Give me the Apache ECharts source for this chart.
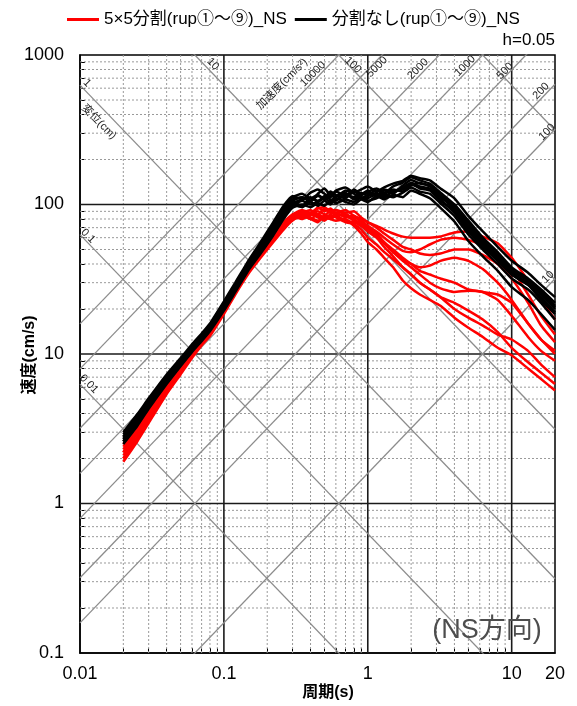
<!DOCTYPE html>
<html><head><meta charset="utf-8">
<script src="https://cdn.jsdelivr.net/npm/echarts@6/dist/echarts.min.js"></script>
<style>html,body{margin:0;padding:0;background:#fff}#c{width:577px;height:706px}</style>
</head><body><div id="c"></div><script>
// ---- data ----
const periods = [0.02, 0.025, 0.03, 0.04, 0.05, 0.06, 0.07, 0.08, 0.1, 0.12, 0.15, 0.18, 0.22, 0.26, 0.3, 0.35, 0.4, 0.45, 0.5, 0.55, 0.6, 0.7, 0.8, 0.9, 1.0, 1.15, 1.3, 1.5, 1.75, 2.0, 2.3, 2.7, 3.2, 4.0, 5.0, 6.3, 8.0, 10, 13, 16, 20];

const red1 = [2.4, 3.2, 4.1, 6.2, 8.3, 10.5, 12.6, 14.7, 20.5, 27, 38, 48, 62, 75, 84, 90, 86, 96, 90, 94, 88, 92, 84, 80, 76, 72, 68, 64, 61, 60, 60, 60, 61, 65, 66, 61, 55, 44, 31, 23, 17];
const red2 = [2.2, 2.95, 3.85, 5.9, 8.0, 10.2, 12.2, 14.3, 20, 26.5, 37, 47, 60, 72, 82, 88, 92, 86, 94, 88, 92, 85, 82, 78, 72, 66, 60, 54, 49, 48, 50, 54, 58, 60, 58, 53, 46, 37, 25, 18, 13.5];
const red3 = [2.0, 2.7, 3.55, 5.5, 7.5, 9.6, 11.6, 13.5, 19, 25.5, 36, 45, 58, 70, 80, 84, 80, 86, 82, 80, 84, 78, 76, 72, 68, 62, 55, 48, 43, 40, 38, 39, 42, 44, 42, 37, 30, 23, 16, 12.5, 10.5];
const red4 = [2.3, 3.05, 3.95, 6.0, 8.1, 10.3, 12.4, 14.4, 20, 26.8, 38, 48, 61, 74, 84, 82, 88, 84, 80, 86, 88, 82, 84, 76, 70, 64, 56, 50, 44, 40, 36, 34, 32, 30, 27, 26, 25, 22, 16, 12.5, 10];
const red5 = [1.9, 2.6, 3.45, 5.4, 7.3, 9.4, 11.4, 13.2, 18.5, 25, 35, 44, 56, 68, 78, 86, 82, 78, 84, 90, 84, 86, 80, 74, 68, 62, 55, 48, 42, 38, 34, 30, 27.5, 26, 26.5, 26, 23, 18, 13, 10.5, 9];
const red6 = [2.1, 2.8, 3.65, 5.7, 7.7, 9.8, 11.8, 13.8, 19.3, 25.8, 36.5, 46, 59, 71, 81, 88, 85, 90, 86, 82, 86, 84, 78, 72, 66, 60, 52, 45, 38, 34, 30, 27, 24, 20, 17.5, 15.5, 13.5, 12.5, 10.5, 8.5, 7];
const red7 = [2.0, 2.7, 3.55, 5.6, 7.6, 9.7, 11.7, 13.6, 19.2, 25.6, 36, 45, 57, 69, 79, 83, 80, 76, 84, 80, 78, 80, 72, 64, 56, 50, 44, 38, 31, 27.5, 25, 23, 21, 17.5, 15, 13, 11, 9.8, 8, 6.8, 5.7];
const red8 = [2.5, 3.3, 4.25, 6.4, 8.5, 10.7, 12.8, 14.9, 21, 27.5, 39, 49, 63, 76, 86, 92, 88, 94, 96, 90, 92, 88, 90, 82, 76, 70, 64, 58, 52, 50, 47, 46, 47, 50, 50, 46, 40, 32, 22, 15.5, 12];
const red9 = [2.2, 2.95, 3.85, 5.8, 7.8, 10.0, 12.0, 14.0, 19.6, 26.2, 37, 46, 59, 72, 83, 80, 86, 82, 78, 84, 82, 76, 74, 68, 60, 54, 48, 43, 38, 34, 30, 27, 24, 22, 19.5, 17, 14, 11, 8.8, 7.5, 6.3];

const black1 = [2.9, 3.8, 4.9, 7.1, 9.2, 11.3, 13.3, 15.6, 22, 29, 41, 53, 72, 92, 108, 112, 104, 118, 128, 116, 122, 114, 126, 118, 122, 128, 120, 132, 140, 152, 145, 138, 120, 100, 78, 60, 48, 38, 32, 27, 22];
const black2 = [2.7, 3.55, 4.6, 6.8, 8.8, 10.8, 12.8, 15, 21, 28, 40, 51, 68, 88, 104, 98, 110, 106, 112, 120, 108, 118, 110, 116, 124, 112, 126, 122, 130, 140, 132, 128, 112, 95, 72, 57, 45, 36, 31, 26, 21];
const black3 = [2.6, 3.45, 4.45, 6.5, 8.5, 10.5, 12.5, 14.6, 20.5, 27, 38, 49, 64, 82, 98, 106, 100, 104, 110, 104, 114, 120, 108, 112, 110, 118, 114, 122, 128, 134, 140, 132, 115, 92, 70, 55, 44, 35, 30, 25, 20];
const black4 = [2.8, 3.7, 4.75, 6.9, 9.0, 11.1, 13.1, 15.3, 21.5, 28.5, 41, 54, 74, 95, 112, 118, 110, 116, 108, 118, 112, 124, 118, 110, 116, 124, 118, 126, 122, 136, 130, 126, 108, 88, 66, 52, 42, 34, 29, 24, 19];
const black5 = [2.5, 3.3, 4.3, 6.3, 8.3, 10.3, 12.2, 14.2, 19.5, 26, 37, 47, 62, 80, 95, 100, 96, 102, 98, 106, 102, 108, 104, 112, 106, 110, 116, 112, 120, 130, 122, 118, 102, 84, 63, 50, 40, 32, 27, 22, 17];
const black6 = [3.0, 3.95, 5.05, 7.3, 9.4, 11.6, 13.7, 16, 22.5, 30, 43, 56, 76, 98, 114, 108, 120, 126, 118, 112, 124, 130, 120, 126, 132, 122, 130, 138, 144, 156, 150, 145, 128, 110, 84, 66, 52, 42, 35, 29, 24];
const black7 = [2.6, 3.45, 4.5, 6.6, 8.6, 10.6, 12.6, 14.8, 20.5, 27.5, 39, 50, 66, 85, 100, 96, 104, 98, 106, 100, 110, 104, 100, 108, 104, 114, 108, 116, 112, 124, 118, 110, 95, 77, 57, 45, 36, 28, 23, 18.5, 14.5];
const black8 = [2.8, 3.7, 4.8, 7.0, 9.1, 11.1, 13.2, 15.4, 21, 28, 40, 52, 70, 90, 106, 112, 106, 114, 110, 122, 116, 110, 122, 116, 120, 114, 124, 118, 134, 146, 138, 134, 116, 97, 75, 58, 46, 37, 31, 26, 20.5];
const black9 = [2.7, 3.55, 4.6, 6.7, 8.8, 10.9, 12.9, 15.1, 20.3, 27, 39, 50, 67, 86, 102, 108, 112, 104, 114, 108, 106, 116, 112, 120, 114, 120, 110, 124, 126, 138, 128, 124, 106, 90, 68, 54, 43, 34, 29, 23, 18.5];

const xTickLabels = [0.01, 0.1, 1, 10, 20];
const yTickLabels = [0.1, 1, 10, 100, 1000];
const dispLines = [0.01, 0.1, 1, 10, 100, 1000];          // cm
const accLines = [10, 100, 200, 500, 1000, 2000, 5000, 10000]; // cm/s2

const RED_NAME = '5×5分割(rup①～⑨)_NS';
const BLACK_NAME = '分割なし(rup①～⑨)_NS';

// ---- build ----
const FONT = '"Liberation Sans", "Noto Sans CJK JP", sans-serif';
const XMIN = 0.01, XMAX = 20, YMIN = 0.1, YMAX = 1000;
const TWO_PI = 2 * Math.PI;
const series = [];
let gid = 0;
function addLine(name, data, color, width, type, z) {
  series.push({
    type: 'line', name: name || ('_g' + (gid++)), data: data, showSymbol: false, symbol: 'none',
    silent: true, animation: false, z: z, clip: true,
    lineStyle: { color: color, width: width, type: type || 'solid' }
  });
}
const minorX = [], minorY = [];
for (let k = -2; k <= 1; k++) for (let m = 2; m <= 9; m++) {
  const v = +(m * Math.pow(10, k)).toPrecision(3);
  if (v > XMIN && v < XMAX) minorX.push(v);
}
for (let k = -1; k <= 2; k++) for (let m = 2; m <= 9; m++) {
  const v = +(m * Math.pow(10, k)).toPrecision(3);
  if (v > YMIN && v < YMAX) minorY.push(v);
}
const majorX = [0.1, 1, 10], majorY = [1, 10, 100];
minorX.forEach(v => addLine(null, [[v, YMIN], [v, YMAX]], '#9a9a9a', 1, [2, 2], 1));
minorY.forEach(v => addLine(null, [[XMIN, v], [XMAX, v]], '#9a9a9a', 1, [2, 2], 1));
majorX.forEach(v => addLine(null, [[v, YMIN], [v, YMAX]], '#1a1a1a', 1.6, 'solid', 2));
majorY.forEach(v => addLine(null, [[XMIN, v], [XMAX, v]], '#1a1a1a', 1.6, 'solid', 2));
// tripartite lines: displacement V = 2*pi*D/T, acceleration V = A*T/(2*pi)
dispLines.forEach(d => addLine(null, [[XMIN, TWO_PI * d / XMIN], [XMAX, TWO_PI * d / XMAX]], '#8c8c8c', 1.3, 'solid', 3));
accLines.forEach(a => addLine(null, [[XMIN, a * XMIN / TWO_PI], [XMAX, a * XMAX / TWO_PI]], '#8c8c8c', 1.3, 'solid', 3));

const reds = [red1, red2, red3, red4, red5, red6, red7, red8, red9];
const blacks = [black1, black2, black3, black4, black5, black6, black7, black8, black9];
function pair(vals) { return periods.map((t, i) => [t, vals[i]]); }
reds.forEach(r => series.push({ type: 'line', name: RED_NAME, data: pair(r), symbol: 'none', showSymbol: false,
  smooth: 0.15, animation: false, z: 5, lineStyle: { color: '#ff0000', width: 2.5 }, itemStyle: { color: '#ff0000' } }));
blacks.forEach(b => series.push({ type: 'line', name: BLACK_NAME, data: pair(b), symbol: 'none', showSymbol: false,
  smooth: 0.15, animation: false, z: 6, lineStyle: { color: '#000000', width: 2.5 }, itemStyle: { color: '#000000' } }));

function fmt(v) { return String(+(+v).toPrecision(6)); }

const small = { fontFamily: FONT, fontSize: 11, fill: '#222' };
const accLabels = [
  ['10000', 313, 74], ['5000', 377, 67], ['2000', 418, 69], ['1000', 465, 66], ['500', 505, 71],
  ['200', 541, 91], ['100', 547, 132], ['10', 548, 277], ['加速度(cm/s²)', 282, 84]
];
const dispLabels = [
  ['1', 87, 83], ['10', 213, 64], ['100', 353, 65], ['0.1', 88, 236], ['0.01', 89, 384], ['変位(cm)', 99, 122]
];
const graphics = [];
accLabels.forEach(([t, x, y]) => graphics.push({ type: 'text', x: x, y: y, rotation: Math.PI / 4, z: 10,
  style: Object.assign({ text: t, align: 'center', verticalAlign: 'middle' }, small) }));
dispLabels.forEach(([t, x, y]) => graphics.push({ type: 'text', x: x, y: y, rotation: -Math.PI / 4, z: 10,
  style: Object.assign({ text: t, align: 'center', verticalAlign: 'middle' }, small) }));
graphics.push({ type: 'text', x: 555, y: 40, z: 10, style: { text: 'h=0.05', align: 'right', verticalAlign: 'middle', fontFamily: FONT, fontSize: 17, fill: '#000' } });
graphics.push({ type: 'text', x: 487, y: 631, z: 10, style: { text: '(NS方向)', align: 'center', verticalAlign: 'middle', fontFamily: FONT, fontSize: 27, fill: '#4d4d4d' } });
graphics.push({ type: 'text', x: 328, y: 693, z: 10, style: { text: '周期(s)', align: 'center', verticalAlign: 'middle', fontFamily: FONT, fontSize: 16, fontWeight: 'bold', fill: '#000' } });
graphics.push({ type: 'text', x: 30, y: 355, rotation: Math.PI / 2, z: 10, style: { text: '速度(cm/s)', align: 'center', verticalAlign: 'middle', fontFamily: FONT, fontSize: 16, fontWeight: 'bold', fill: '#000' } });

const chart = echarts.init(document.getElementById('c'), null, { renderer: 'canvas' });
chart.setOption({
  animation: false,
  backgroundColor: '#fff',
  textStyle: { fontFamily: FONT },
  grid: { left: 80, right: 22, top: 55, bottom: 53, show: true, borderColor: '#000', borderWidth: 1.5, backgroundColor: 'transparent' },
  legend: {
    data: [RED_NAME, BLACK_NAME], left: 62, top: 6, icon: 'rect', itemWidth: 32, itemHeight: 3, itemGap: 8,
    textStyle: { fontFamily: FONT, fontSize: 17, color: '#000' }
  },
  xAxis: {
    type: 'log', logBase: 10, min: XMIN, max: XMAX,
    axisLine: { show: true, lineStyle: { color: '#000', width: 1.5 } },
    axisTick: { show: true, inside: true, length: 5, customValues: minorX, lineStyle: { color: '#000', width: 1 } },
    axisLabel: { customValues: xTickLabels, margin: 12, fontSize: 18, color: '#000', fontFamily: FONT, formatter: fmt },
    splitLine: { show: false }, minorTick: { show: false }, minorSplitLine: { show: false }
  },
  yAxis: {
    type: 'log', logBase: 10, min: YMIN, max: YMAX,
    axisLine: { show: true, lineStyle: { color: '#000', width: 1.5 } },
    axisTick: { show: true, inside: true, length: 5, customValues: minorY, lineStyle: { color: '#000', width: 1 } },
    axisLabel: { customValues: yTickLabels, margin: 16, fontSize: 18, color: '#000', fontFamily: FONT, formatter: fmt },
    splitLine: { show: false }, minorTick: { show: false }, minorSplitLine: { show: false }
  },
  graphic: graphics,
  series: series
});
</script></body></html>
